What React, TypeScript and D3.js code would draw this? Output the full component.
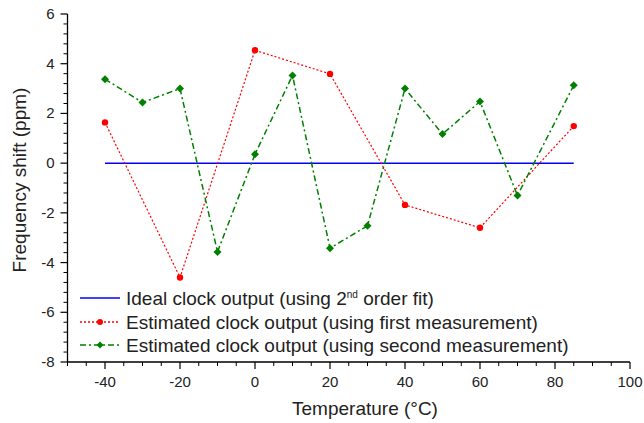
import React from "react";
import * as d3 from "d3";

const idealX = [-40, 85];
const idealY = [0, 0];

const firstX = [-40, -20, 0, 20, 40, 60, 85];
const firstY = [1.64, -4.6, 4.54, 3.59, -1.68, -2.6, 1.49];

const secondX = [-40, -30, -20, -10, 0, 10, 20, 30, 40, 50, 60, 70, 85];
const secondY = [3.38, 2.44, 3.0, -3.57, 0.36, 3.53, -3.42, -2.52, 3.0, 1.17, 2.48, -1.3, 3.13];

const xMajor = [-40, -20, 0, 20, 40, 60, 80, 100];
const yMajor = [-8, -6, -4, -2, 0, 2, 4, 6];

const W = 644;
const H = 423;
const left = 67.5;
const right = 630;
const top = 14;
const bottom = 362;

export default function App() {
  const x = d3.scaleLinear().domain([-50, 100]).range([left, right]);
  const y = d3.scaleLinear().domain([-8, 6]).range([bottom, top]);
  const line = d3
    .line<[number, number]>()
    .x((d) => x(d[0]))
    .y((d) => y(d[1]));

  const xMinor = d3.range(-50, 100.01, 5).filter((v) => !xMajor.includes(v));
  const yMinor: number[] = [];
  for (let i = 0; i < yMajor.length - 1; i++) {
    for (let k = 1; k < 5; k++) yMinor.push(yMajor[i] + (k * 2) / 5);
  }

  const font = "Arial, 'Liberation Sans', sans-serif";
  const ideal = idealX.map((v, i) => [v, idealY[i]] as [number, number]);
  const first = firstX.map((v, i) => [v, firstY[i]] as [number, number]);
  const second = secondX.map((v, i) => [v, secondY[i]] as [number, number]);

  const diamond = (cx: number, cy: number, s: number) =>
    `M${cx},${cy - s}L${cx + s},${cy}L${cx},${cy + s}L${cx - s},${cy}Z`;

  const legendItems = [
    { y: 298, color: "#0000ff", dash: "none", marker: "none" },
    { y: 322, color: "#ff0000", dash: "2,2", marker: "circle" },
    { y: 345, color: "#008000", dash: "6,3,2,3", marker: "diamond" },
  ];

  return (
    <svg width={W} height={H} style={{ position: "absolute", left: 0, top: 0, background: "#fff" }}>
      <rect width={W} height={H} fill="#fff" />
      {/* axes */}
      <line x1={left} x2={left} y1={top} y2={bottom} stroke="#000" strokeWidth={1.3} />
      <line x1={left} x2={right} y1={bottom} y2={bottom} stroke="#000" strokeWidth={1.3} />
      {xMajor.map((v) => (
        <g key={"xm" + v}>
          <line x1={x(v)} x2={x(v)} y1={bottom} y2={bottom + 7} stroke="#000" strokeWidth={1.2} />
          <text x={x(v)} y={bottom + 25} textAnchor="middle" fontFamily={font} fontSize={15} fill="#222">
            {v}
          </text>
        </g>
      ))}
      {xMinor.map((v) => (
        <line key={"xn" + v} x1={x(v)} x2={x(v)} y1={bottom} y2={bottom + 4} stroke="#000" strokeWidth={1} />
      ))}
      {yMajor.map((v) => (
        <g key={"ym" + v}>
          <line x1={left - 7} x2={left} y1={y(v)} y2={y(v)} stroke="#000" strokeWidth={1.2} />
          <text x={left - 13} y={y(v) + 5} textAnchor="end" fontFamily={font} fontSize={15} fill="#222">
            {v}
          </text>
        </g>
      ))}
      {yMinor.map((v) => (
        <line key={"yn" + v} x1={left - 4} x2={left} y1={y(v)} y2={y(v)} stroke="#000" strokeWidth={1} />
      ))}
      <text
        transform={`translate(26,${180}) rotate(-90)`}
        textAnchor="middle"
        fontFamily={font}
        fontSize={19}
        fill="#222"
      >
        Frequency shift (ppm)
      </text>
      <text x={365} y={415} textAnchor="middle" fontFamily={font} fontSize={19} fill="#222">
        Temperature (°C)
      </text>

      {/* series */}
      <path d={line(ideal) || ""} fill="none" stroke="#0000ff" strokeWidth={1.5} />
      <path d={line(first) || ""} fill="none" stroke="#ff0000" strokeWidth={1.2} strokeDasharray="2,2" />
      {first.map((d, i) => (
        <circle key={"c" + i} cx={x(d[0])} cy={y(d[1])} r={3.2} fill="#ff0000" />
      ))}
      <path d={line(second) || ""} fill="none" stroke="#008000" strokeWidth={1.5} strokeDasharray="6,3,2,3" />
      {second.map((d, i) => (
        <path key={"d" + i} d={diamond(x(d[0]), y(d[1]), 4)} fill="#008000" />
      ))}

      {/* legend */}
      {legendItems.map((it, i) => (
        <g key={"l" + i}>
          <line x1={80} x2={120} y1={it.y} y2={it.y} stroke={it.color} strokeWidth={it.marker === "none" ? 1.5 : 1.3} strokeDasharray={it.dash} />
          {it.marker === "circle" && <circle cx={100} cy={it.y} r={3} fill={it.color} />}
          {it.marker === "diamond" && <path d={diamond(100, it.y, 3.5)} fill={it.color} />}
        </g>
      ))}
      <text x={126} y={305} fontFamily={font} fontSize={19} fill="#222">
        Ideal clock output (using 2<tspan dy={-7} fontSize={10}>nd</tspan>
        <tspan dy={7}> order fit)</tspan>
      </text>
      <text x={126} y={329} fontFamily={font} fontSize={19} fill="#222">
        Estimated clock output (using first measurement)
      </text>
      <text x={126} y={352} fontFamily={font} fontSize={19} fill="#222">
        Estimated clock output (using second measurement)
      </text>
    </svg>
  );
}
